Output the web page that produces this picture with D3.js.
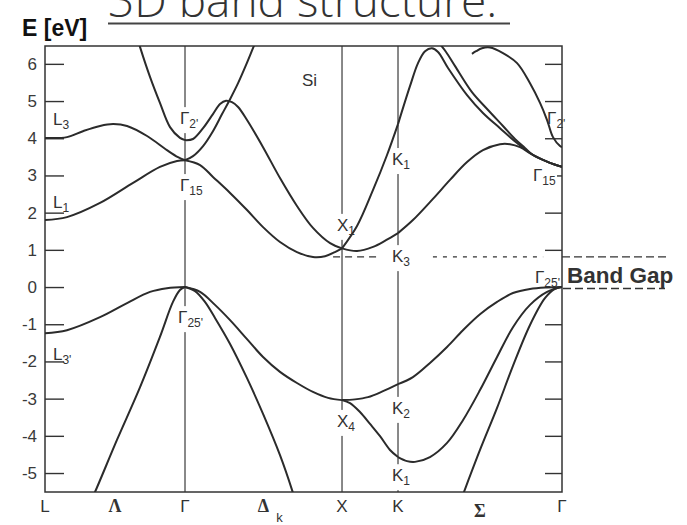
<!DOCTYPE html>
<html>
<head>
<meta charset="utf-8">
<script src="https://cdn.jsdelivr.net/npm/d3@7"></script>
<style>
  html, body { margin: 0; padding: 0; background: #fff; }
  svg { display: block; }
</style>
</head>
<body>
<svg id="chart" width="687" height="525"></svg>
<script>
// ---- k-path: symmetry points (index positions along the path) ----
const kPoints = ["L", "Γ", "X", "K", "Γ"];
const kIndex = [0, 1, 2, 3, 4];
// line labels along the path (between symmetry points)
const lineNames = ["Λ", "Δ", "Σ"];
const lineIndex = [0.5, 1.5, 3.5];

// ---- energy axis ----
const energyTicks = [-5, -4, -3, -2, -1, 0, 1, 2, 3, 4, 5, 6];
const energyRange = [-5.51, 6.48];

// ---- bands, [k, E(eV)] ----
// L – Γ
const lgValence1 = [[0.336,-5.67],[0.357,-5.51],[0.514,-4.11],[0.679,-2.69],[0.821,-1.34],[0.914,-0.40],[0.964,-0.08],[1,0]];
const lgValence2 = [[0,-1.24],[0.157,-1.16],[0.393,-0.81],[0.586,-0.43],[0.75,-0.13],[0.871,-0.03],[1,0]];
const lgCond1 = [[0,1.80],[0.157,1.88],[0.393,2.26],[0.629,2.80],[0.821,3.23],[0.943,3.39],[1,3.41]];
const lgCond2 = [[0,4.01],[0.157,4.03],[0.271,4.19],[0.393,4.33],[0.486,4.38],[0.586,4.33],[0.729,4.06],[0.871,3.68],[0.95,3.49],[1,3.41]];
const lgCond3 = [[0.664,6.64],[0.679,6.45],[0.75,5.65],[0.821,4.95],[0.893,4.30],[0.964,4.01],[1,3.95]];
// Γ – X
const gxValence1 = [[1,0],[1.096,-0.13],[1.191,-0.48],[1.287,-0.89],[1.395,-1.40],[1.497,-1.88],[1.605,-2.28],[1.713,-2.58],[1.815,-2.82],[1.911,-2.98],[2,-3.04]];
const gxValence2 = [[1,0],[1.064,-0.11],[1.127,-0.40],[1.191,-0.83],[1.287,-1.53],[1.395,-2.45],[1.497,-3.41],[1.605,-4.52],[1.682,-5.46],[1.701,-5.73]];
const gxCond1 = [[1,3.41],[1.096,3.28],[1.178,2.96],[1.287,2.53],[1.395,2.07],[1.497,1.61],[1.605,1.21],[1.713,0.94],[1.815,0.81],[1.892,0.83],[1.955,0.94],[2,1.04]];
const gxCond2 = [[1,3.95],[1.051,3.98],[1.115,4.27],[1.178,4.65],[1.223,4.92],[1.261,5.01],[1.299,4.97],[1.338,4.84],[1.395,4.49],[1.497,3.76],[1.605,2.93],[1.713,2.18],[1.815,1.59],[1.924,1.18],[2,1.04]];
const gxCond3 = [[1,3.41],[1.051,3.52],[1.115,3.79],[1.178,4.19],[1.236,4.65],[1.287,5.05],[1.338,5.48],[1.389,5.97],[1.433,6.42],[1.452,6.61]];
// X – K
const xkValence1 = [[2,-3.04],[2.232,-3.02],[2.464,-2.96],[2.732,-2.80],[3,-2.61]];
const xkValence2 = [[2,-3.04],[2.143,-3.12],[2.321,-3.36],[2.5,-3.68],[2.679,-4.01],[2.857,-4.38],[3,-4.57]];
const xkCond1 = [[2,1.04],[2.268,0.97],[2.554,1.08],[2.786,1.26],[3,1.45]];
const xkCond2 = [[2,1.04],[2.268,1.64],[2.554,2.61],[2.804,3.55],[3,4.38]];
// K – Γ
const kgValence1 = [[3,-2.61],[3.091,-2.42],[3.195,-2.04],[3.299,-1.61],[3.396,-1.16],[3.5,-0.73],[3.604,-0.40],[3.701,-0.16],[3.805,-0.05],[3.909,-0.01],[4,0]];
const kgValence2 = [[3,-4.57],[3.055,-4.68],[3.104,-4.70],[3.195,-4.57],[3.299,-4.19],[3.396,-3.58],[3.5,-2.77],[3.604,-1.88],[3.701,-1.08],[3.805,-0.48],[3.909,-0.13],[4,0]];
const kgValence3 = [[3.39,-5.65],[3.402,-5.51],[3.5,-4.38],[3.604,-3.25],[3.701,-2.12],[3.805,-1.02],[3.896,-0.30],[3.957,-0.05],[4,0]];
const kgCond1 = [[3,1.45],[3.091,1.80],[3.213,2.37],[3.317,2.88],[3.421,3.36],[3.518,3.68],[3.622,3.84],[3.683,3.84],[3.744,3.76],[3.823,3.55],[3.915,3.36],[4,3.23]];
const kgCond2 = [[3,4.38],[3.073,5.40],[3.122,6.02],[3.165,6.34],[3.207,6.42],[3.244,6.32],[3.305,5.89],[3.421,5.16],[3.518,4.68],[3.622,4.27],[3.726,3.87],[3.823,3.55],[3.915,3.36],[4,3.23]];
const kgCond3 = [[3.256,6.53],[3.293,6.32],[3.348,5.94],[3.451,5.24],[3.549,4.76],[3.640,4.33],[3.713,3.98],[3.774,3.74],[3.823,3.55],[3.915,3.36],[4,3.23]];
const kgCond4 = [[3.451,6.27],[3.476,6.34],[3.512,6.42],[3.561,6.44],[3.640,6.29],[3.726,6.02],[3.805,5.48],[3.866,4.95],[3.909,4.49],[3.945,4.03],[3.988,3.79],[4,3.76]];

const bands = [
  lgValence1, lgValence2, lgCond1, lgCond2, lgCond3,
  gxValence1, gxValence2, gxCond1, gxCond2, gxCond3,
  xkValence1, xkValence2, xkCond1, xkCond2,
  kgValence1, kgValence2, kgValence3, kgCond1, kgCond2, kgCond3, kgCond4
];

// ---- critical-point labels: symbol, subscript, anchor [k, E] ----
const labelMain = ["L","L","L","Γ","Γ","Γ","X","X","K","K","K","K","Γ","Γ","Γ"];
const labelSub  = ["3","1","3'","2'","15","25'","1","4","1","3","2","1","2'","15","25'"];
const labelK    = [0.057,0.057,0.057,0.964,0.964,0.95,1.968,1.968,2.893,2.893,2.893,2.893,3.909,3.823,3.835];
const labelE    = [4.35,2.12,-1.96,4.38,2.58,-0.97,1.51,-3.76,3.28,0.67,-3.41,-5.22,4.38,2.85,0.11];

// ---- band gap markers ----
const conductionMin = 0.81;
const valenceMax = 0;

// ---------------- layout ----------------
const svg = d3.select("#chart");
const W = 687, H = 525;
const margin = { left: 45, top: 46, right: 125, bottom: 33 };
const plotW = W - margin.left - margin.right;
const plotH = H - margin.top - margin.bottom;
const x0 = margin.left, x1 = margin.left + plotW;
const y0 = margin.top, y1 = margin.top + plotH;

// relative widths of the path segments on the page
const symFrac = [0, 0.2708, 0.5745, 0.6828, 1];
const x = d3.scaleLinear().domain(kIndex).range(symFrac.map(f => x0 + f * plotW));
const y = d3.scaleLinear().domain(energyRange).range([y1, y0]);

const ink = "#2b2b2b";
const textInk = "#333";
const sans = "'Liberation Sans', Arial, sans-serif";
const serif = "'Liberation Serif', 'DejaVu Serif', serif";

svg.append("rect").attr("width", W).attr("height", H).attr("fill", "#fff");

svg.append("defs").append("clipPath").attr("id", "plotClip")
  .append("rect").attr("x", x0).attr("y", y0).attr("width", plotW).attr("height", plotH);

// vertical symmetry lines at Γ, X, K
const gLines = svg.append("g");
gLines.selectAll("line").data(kIndex.slice(1, 4)).join("line")
  .attr("x1", d => x(d)).attr("x2", d => x(d))
  .attr("y1", y0).attr("y2", y1)
  .attr("stroke", "#3a3a3a").attr("stroke-width", 1.2);

// energy axis ticks (inward), labels on the left
const leftAxis = d3.axisLeft(y).tickValues(energyTicks)
  .tickSizeInner(-19).tickSizeOuter(0).tickPadding(8)
  .tickFormat(d => String(d));
const gLeft = svg.append("g").attr("transform", `translate(${x0},0)`).call(leftAxis);
gLeft.select(".domain").remove();
gLeft.selectAll(".tick line").attr("stroke", "#333").attr("stroke-width", 1.4);
gLeft.selectAll(".tick text").attr("font-family", sans).attr("font-size", 17)
  .attr("fill", "#3a3a3a");

const rightAxis = d3.axisRight(y).tickValues(energyTicks.filter(d => d !== 0))
  .tickSizeInner(-17).tickSizeOuter(0).tickFormat("");
const gRight = svg.append("g").attr("transform", `translate(${x1},0)`).call(rightAxis);
gRight.select(".domain").remove();
gRight.selectAll(".tick line").attr("stroke", "#333").attr("stroke-width", 1.4);

// white backing behind labels that sit on lines
const gLabelBg = svg.append("g");

// frame
svg.append("rect").attr("x", x0).attr("y", y0).attr("width", plotW).attr("height", plotH)
  .attr("fill", "none").attr("stroke", "#333").attr("stroke-width", 1.5);

// bands
const line = d3.line().x(d => x(d[0])).y(d => y(d[1])).curve(d3.curveCatmullRom.alpha(0.5));
svg.append("g").attr("clip-path", "url(#plotClip)")
  .selectAll("path").data(bands).join("path")
  .attr("d", line).attr("fill", "none")
  .attr("stroke", ink).attr("stroke-width", 2).attr("stroke-linejoin", "round");

// critical-point labels
const gLabels = svg.append("g").attr("font-family", sans).attr("fill", textInk);
labelMain.forEach((m, i) => {
  const t = gLabels.append("text")
    .attr("x", x(labelK[i])).attr("y", y(labelE[i]))
    .attr("font-size", 17);
  t.append("tspan").text(m);
  t.append("tspan").attr("font-size", 12).attr("dy", 4).text(labelSub[i]);
  if (labelK[i] > 0.5) {
    const b = t.node().getBBox();
    gLabelBg.append("rect")
      .attr("x", b.x - 1).attr("y", b.y - 2)
      .attr("width", b.width + 2).attr("height", b.height + 4)
      .attr("fill", "#fff");
  }
});

// "Si"
svg.append("text").attr("x", x(1.745)).attr("y", y(5.40))
  .attr("font-family", sans).attr("font-size", 17).attr("fill", textInk).text("Si");

// k-path labels below the frame
svg.append("g").selectAll("text").data(kPoints).join("text")
  .attr("x", (d, i) => x(kIndex[i])).attr("y", y1 + 20)
  .attr("text-anchor", "middle")
  .attr("font-family", sans).attr("font-size", 17).attr("fill", textInk)
  .text(d => d);
svg.append("g").selectAll("text").data(lineNames).join("text")
  .attr("x", (d, i) => x(lineIndex[i])).attr("y", (d, i) => y1 + (d === "Σ" ? 25 : 20))
  .attr("text-anchor", "middle")
  .attr("font-family", serif).attr("font-weight", "bold").attr("font-size", 18).attr("fill", textInk)
  .text(d => d);
svg.append("text").attr("x", x(1.5) + 16).attr("y", y1 + 30)
  .attr("text-anchor", "middle")
  .attr("font-family", sans).attr("font-size", 13).attr("fill", textInk).text("k");

// band gap guide lines
const gGap = svg.append("g").attr("stroke", "#333").attr("stroke-width", 1.4).attr("fill", "none");
gGap.append("line")
  .attr("x1", x(1.943)).attr("x2", x(2.625))
  .attr("y1", y(conductionMin)).attr("y2", y(conductionMin))
  .attr("stroke-dasharray", "7,5");
gGap.append("line")
  .attr("x1", x(3.213)).attr("x2", x(3.885))
  .attr("y1", y(conductionMin)).attr("y2", y(conductionMin))
  .attr("stroke-dasharray", "4,6");
gGap.append("line")
  .attr("x1", x1).attr("x2", W - 20)
  .attr("y1", y(conductionMin)).attr("y2", y(conductionMin))
  .attr("stroke-dasharray", "8,4");
gGap.append("line")
  .attr("x1", x1 + 1).attr("x2", W - 22)
  .attr("y1", y(valenceMax) + 1.5).attr("y2", y(valenceMax) + 1.5)
  .attr("stroke-dasharray", "8,4");

svg.append("text").attr("x", x1 + 5).attr("y", y(valenceMax) - 4)
  .attr("font-family", sans).attr("font-weight", "bold").attr("font-size", 22.5)
  .attr("fill", "#333").text("Band Gap");

// axis title and heading
svg.append("text").attr("x", 22).attr("y", 36)
  .attr("font-family", sans).attr("font-weight", "bold").attr("font-size", 23)
  .attr("fill", "#111").text("E [eV]");

svg.append("text").attr("x", 108).attr("y", 17)
  .attr("font-family", "'Open Sans', sans-serif").attr("font-weight", 300)
  .attr("font-size", 46).attr("fill", "#333").text("3D band structure.");
svg.append("line").attr("x1", 108).attr("x2", 510).attr("y1", 23.5).attr("y2", 23.5)
  .attr("stroke", "#444").attr("stroke-width", 2);
</script>
</body>
</html>
